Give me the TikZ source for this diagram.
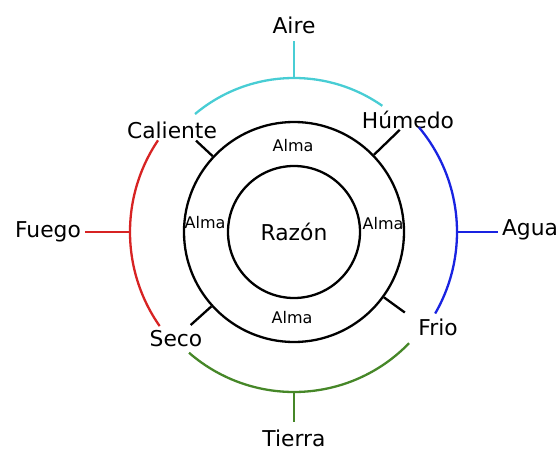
\documentclass[tikz,border=0pt]{standalone}
\usepackage{fontspec}
\setmainfont{DejaVu Sans}
\usepackage{xcolor}
\usetikzlibrary{positioning}
\definecolor{aircyan}{RGB}{72,205,212}
\definecolor{firered}{RGB}{215,35,35}
\definecolor{waterblue}{RGB}{25,35,225}
\definecolor{earthgreen}{RGB}{70,135,40}

\begin{document}
\begin{tikzpicture}[x=1pt,y=1pt,line width=2.3pt,
 element/.style={font=\fontsize{21.8}{25}\selectfont,inner xsep=3pt,inner ysep=6pt},
 quality/.style={font=\fontsize{21.8}{25}\selectfont,inner sep=1pt},
 soul/.style={font=\fontsize{16}{18}\selectfont,inner sep=0pt},
 ring/.style={circle,draw,inner sep=0pt}]
 \useasboundingbox (0,0) rectangle (560,451);
 \coordinate (c) at (294,219);

 \node[ring,minimum size=132pt,font=\fontsize{21.8}{25}\selectfont] (razon) at (c) {Razón};
 \node[ring,minimum size=220pt] (alma) at (c) {};

 \node[soul] (alma_n) at (293,305) {Alma};
 \node[soul] (alma_s) at (292,133) {Alma};
 \node[soul] (alma_w) at (205,228) {Alma};
 \node[soul] (alma_e) at (383,227) {Alma};

 \node[quality] (caliente) at (172,321) {Caliente};
 \node[quality] (humedo) at (408,331) {Húmedo};
 \node[quality] (seco) at (176,112) {Seco};
 \node[quality] (frio) at (438,124) {Frio};

 \node[element] (aire) at (294,426) {Aire};
 \node[element] (tierra) at (294,13) {Tierra};
 \node[element] (fuego) at (48,219) {Fuego};
 \node[element] (agua) at (530,221) {Agua};

 % ticks between alma and the qualities
 \path (c) ++(137:134) coordinate (t_cal)
       (c) ++(44:147) coordinate (t_hum)
       (c) ++(222:139) coordinate (t_sec)
       (c) ++(-36:137) coordinate (t_fri);
 \path[draw] (alma.137) -- (t_cal)
             (alma.44) -- (t_hum)
             (alma.222) -- (t_sec)
             (alma.-36) -- (t_fri);

 % element arcs
 \path (c) ++(90:154) coordinate (p_aire)
       (c) ++(-90:160) coordinate (p_tierra)
       (c) ++(180:164) coordinate (p_fuego)
       (c) ++(0:163) coordinate (p_agua);

 \draw[aircyan] (c) ++(55:154) arc[start angle=55,end angle=130,radius=154];
 \draw[aircyan] (p_aire) -- (p_aire |- aire.south);

 \draw[waterblue] (c) ++(40:163) arc[start angle=40,end angle=-30,radius=163];
 \draw[waterblue] (p_agua) -- (p_agua -| agua.west);

 \draw[earthgreen] (c) ++(-44:160) arc[start angle=-44,end angle=-131,radius=160];
 \draw[earthgreen] (p_tierra) -- (p_tierra |- tierra.north);

 \draw[firered] (c) ++(146:164) arc[start angle=146,end angle=215,radius=164];
 \draw[firered] (p_fuego) -- (p_fuego -| fuego.east);
\end{tikzpicture}
\end{document}
